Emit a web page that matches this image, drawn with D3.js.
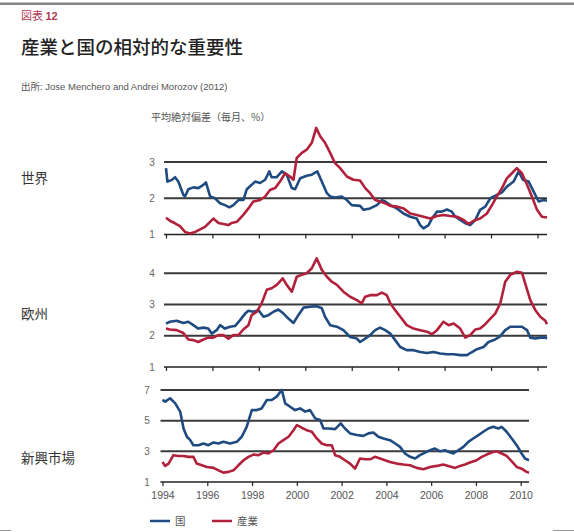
<!DOCTYPE html>
<html>
<head>
<meta charset="utf-8">
<script src="https://cdn.jsdelivr.net/npm/d3@7"></script>
<style>
  body { margin: 0; background: #fff; }
  svg { display: block; }
  text { font-family: "Liberation Sans", "Noto Sans CJK JP", sans-serif; }
  .jp { font-family: "Noto Sans CJK JP", sans-serif; }
</style>
</head>
<body>
<div id="chart"></div>
<script>
// x ticks (years) and y ticks per panel
var yearTicks = [1994, 1996, 1998, 2000, 2002, 2004, 2006, 2008, 2010];
var worldTicks = [1, 2, 3];
var europeTicks = [1, 2, 3, 4];
var emTicks = [1, 3, 5, 7];

var panelNames = ["世界", "欧州", "新興市場"];
var seriesNames = ["国", "産業"];

// [year, mean absolute deviation %]
var worldCountry = [[1994.0,2.83],[1994.06,2.46],[1994.24,2.5],[1994.39,2.58],[1994.53,2.46],[1994.75,2.09],[1994.82,2.05],[1994.96,2.25],[1995.18,2.3],[1995.39,2.28],[1995.61,2.37],[1995.72,2.44],[1995.9,2.05],[1996.11,2.0],[1996.33,1.86],[1996.54,1.81],[1996.73,1.75],[1996.9,1.81],[1997.12,1.95],[1997.33,1.95],[1997.48,2.25],[1997.69,2.37],[1997.84,2.46],[1998.05,2.42],[1998.27,2.51],[1998.45,2.74],[1998.55,2.58],[1998.77,2.58],[1998.99,2.74],[1999.2,2.65],[1999.42,2.28],[1999.56,2.25],[1999.78,2.55],[2000.06,2.62],[2000.28,2.65],[2000.52,2.74],[2000.71,2.46],[2000.93,2.14],[2001.07,2.05],[2001.28,2.02],[2001.57,2.05],[2001.79,1.95],[2002.0,1.81],[2002.36,1.79],[2002.51,1.68],[2002.79,1.72],[2003.08,1.81],[2003.3,1.95],[2003.44,1.91],[2003.66,1.81],[2003.94,1.72],[2004.23,1.58],[2004.52,1.49],[2004.8,1.44],[2004.95,1.26],[2005.09,1.17],[2005.31,1.26],[2005.45,1.44],[2005.67,1.63],[2005.88,1.63],[2006.1,1.69],[2006.31,1.63],[2006.46,1.49],[2006.67,1.4],[2006.89,1.31],[2007.1,1.26],[2007.32,1.4],[2007.53,1.68],[2007.75,1.77],[2007.97,2.0],[2008.25,2.09],[2008.47,2.16],[2008.68,2.32],[2008.97,2.46],[2009.19,2.74],[2009.37,2.51],[2009.62,2.46],[2009.83,2.19],[2010.05,1.91],[2010.26,1.95],[2010.41,1.93]];
var worldIndustry = [[1994.0,1.46],[1994.17,1.38],[1994.39,1.31],[1994.6,1.23],[1994.82,1.07],[1995.03,1.03],[1995.25,1.07],[1995.47,1.14],[1995.68,1.21],[1995.9,1.35],[1996.04,1.44],[1996.26,1.32],[1996.47,1.29],[1996.69,1.26],[1996.83,1.32],[1997.05,1.35],[1997.33,1.54],[1997.55,1.72],[1997.76,1.91],[1998.05,1.95],[1998.27,2.05],[1998.48,2.23],[1998.7,2.28],[1998.91,2.46],[1999.13,2.69],[1999.34,2.6],[1999.49,2.51],[1999.63,3.11],[1999.85,3.25],[2000.06,3.34],[2000.28,3.53],[2000.47,3.94],[2000.64,3.71],[2000.85,3.53],[2001.07,3.25],[2001.28,2.97],[2001.5,2.83],[2001.79,2.6],[2002.07,2.51],[2002.36,2.49],[2002.58,2.28],[2002.79,2.14],[2003.01,1.95],[2003.22,1.91],[2003.44,1.86],[2003.66,1.79],[2003.94,1.77],[2004.23,1.72],[2004.52,1.58],[2004.8,1.54],[2005.09,1.49],[2005.38,1.44],[2005.67,1.51],[2005.95,1.54],[2006.24,1.51],[2006.53,1.49],[2006.82,1.4],[2007.03,1.29],[2007.25,1.38],[2007.53,1.44],[2007.82,1.58],[2008.04,1.81],[2008.25,2.05],[2008.47,2.28],[2008.68,2.55],[2008.9,2.69],[2009.11,2.83],[2009.33,2.69],[2009.55,2.37],[2009.76,2.05],[2009.98,1.68],[2010.19,1.49],[2010.41,1.47]];
var europeCountry = [[1994.0,2.39],[1994.17,2.45],[1994.46,2.48],[1994.75,2.41],[1994.96,2.45],[1995.18,2.34],[1995.39,2.23],[1995.61,2.26],[1995.82,2.23],[1995.97,2.07],[1996.18,2.18],[1996.33,2.34],[1996.54,2.23],[1996.76,2.29],[1996.97,2.31],[1997.19,2.5],[1997.41,2.71],[1997.55,2.8],[1997.76,2.77],[1997.98,2.82],[1998.2,2.61],[1998.41,2.66],[1998.63,2.77],[1998.84,2.84],[1999.06,2.71],[1999.27,2.55],[1999.49,2.41],[1999.7,2.66],[1999.92,2.9],[2000.21,2.93],[2000.49,2.95],[2000.71,2.88],[2000.85,2.61],[2001.07,2.34],[2001.36,2.29],[2001.64,2.18],[2001.93,1.96],[2002.22,1.91],[2002.36,1.8],[2002.58,1.91],[2002.79,2.02],[2003.01,2.18],[2003.22,2.26],[2003.44,2.18],[2003.66,2.07],[2003.87,1.86],[2004.09,1.64],[2004.37,1.54],[2004.66,1.54],[2004.95,1.48],[2005.24,1.45],[2005.52,1.48],[2005.81,1.43],[2006.1,1.41],[2006.39,1.41],[2006.67,1.38],[2006.96,1.38],[2007.18,1.48],[2007.39,1.57],[2007.68,1.64],[2007.89,1.8],[2008.18,1.88],[2008.4,1.99],[2008.61,2.18],[2008.83,2.29],[2009.11,2.29],[2009.33,2.29],[2009.55,2.18],[2009.69,1.94],[2009.91,1.91],[2010.12,1.94],[2010.34,1.94],[2010.41,1.91]];
var europeIndustry = [[1994.0,2.23],[1994.17,2.2],[1994.46,2.18],[1994.75,2.09],[1994.96,1.88],[1995.18,1.86],[1995.39,1.8],[1995.61,1.88],[1995.82,1.94],[1996.04,1.94],[1996.26,2.02],[1996.47,2.02],[1996.69,1.91],[1996.9,2.02],[1997.12,2.02],[1997.33,2.2],[1997.55,2.34],[1997.69,2.66],[1997.91,2.77],[1998.12,3.04],[1998.34,3.47],[1998.55,3.52],[1998.77,3.63],[1999.03,3.84],[1999.2,3.63],[1999.42,3.41],[1999.63,3.89],[1999.85,3.95],[2000.06,4.0],[2000.28,4.16],[2000.49,4.48],[2000.71,4.11],[2000.93,3.89],[2001.14,3.73],[2001.36,3.63],[2001.64,3.41],[2001.93,3.25],[2002.22,3.14],[2002.43,3.04],[2002.58,3.25],[2002.79,3.3],[2003.08,3.3],[2003.3,3.38],[2003.51,3.3],[2003.66,3.04],[2003.87,2.82],[2004.09,2.61],[2004.37,2.34],[2004.66,2.23],[2004.95,2.18],[2005.24,2.13],[2005.45,2.05],[2005.67,2.18],[2005.95,2.45],[2006.17,2.34],[2006.39,2.39],[2006.67,2.23],[2006.89,1.94],[2007.1,2.02],[2007.32,2.2],[2007.53,2.23],[2007.75,2.37],[2007.97,2.55],[2008.18,2.71],[2008.4,3.04],[2008.61,3.73],[2008.83,3.95],[2009.11,4.05],[2009.33,4.02],[2009.47,3.68],[2009.69,3.14],[2009.91,2.82],[2010.12,2.61],[2010.34,2.48],[2010.41,2.37]];
var emCountry = [[1994.0,6.35],[1994.12,6.24],[1994.34,6.46],[1994.57,6.13],[1994.79,5.59],[1994.94,4.49],[1995.09,3.95],[1995.24,3.73],[1995.38,3.4],[1995.61,3.4],[1995.83,3.51],[1996.05,3.4],[1996.28,3.58],[1996.5,3.51],[1996.72,3.62],[1997.02,3.51],[1997.32,3.62],[1997.54,3.95],[1997.76,4.6],[1997.99,5.69],[1998.21,5.69],[1998.43,5.8],[1998.66,6.35],[1998.88,6.35],[1999.1,6.57],[1999.33,7.0],[1999.48,6.13],[1999.7,5.91],[1999.92,5.69],[2000.15,5.8],[2000.37,5.59],[2000.59,5.69],[2000.82,5.15],[2001.04,5.04],[2001.19,4.49],[2001.41,4.49],[2001.71,4.45],[2001.96,4.82],[2002.15,4.49],[2002.38,4.17],[2002.68,4.06],[2002.97,4.01],[2003.2,4.17],[2003.42,4.23],[2003.64,3.95],[2003.87,3.84],[2004.16,3.73],[2004.39,3.51],[2004.61,3.29],[2004.83,2.86],[2005.06,2.64],[2005.28,2.53],[2005.5,2.75],[2005.73,2.92],[2005.95,3.07],[2006.17,3.18],[2006.4,3.0],[2006.62,3.07],[2006.77,2.97],[2006.99,2.86],[2007.21,3.07],[2007.44,3.29],[2007.66,3.62],[2007.88,3.84],[2008.11,4.06],[2008.33,4.28],[2008.55,4.49],[2008.78,4.6],[2009.0,4.49],[2009.15,4.6],[2009.37,4.28],[2009.6,3.84],[2009.82,3.4],[2010.04,2.86],[2010.19,2.53],[2010.37,2.42]];
var emIndustry = [[1994.0,2.31],[1994.12,2.05],[1994.27,2.2],[1994.49,2.75],[1994.71,2.7],[1994.94,2.7],[1995.16,2.64],[1995.38,2.64],[1995.53,2.2],[1995.76,2.09],[1995.98,1.98],[1996.28,1.92],[1996.5,1.76],[1996.72,1.61],[1996.95,1.66],[1997.17,1.76],[1997.39,2.09],[1997.62,2.42],[1997.84,2.64],[1998.06,2.79],[1998.29,2.75],[1998.51,2.92],[1998.73,2.86],[1998.96,3.07],[1999.18,3.51],[1999.4,3.73],[1999.63,3.95],[1999.85,4.38],[2000.0,4.71],[2000.22,4.54],[2000.44,4.38],[2000.67,4.28],[2000.89,3.84],[2001.11,3.51],[2001.34,3.4],[2001.56,3.4],[2001.71,2.75],[2001.93,2.64],[2002.15,2.42],[2002.38,2.2],[2002.6,1.87],[2002.82,2.53],[2003.05,2.48],[2003.27,2.48],[2003.49,2.64],[2003.72,2.53],[2003.94,2.42],[2004.16,2.31],[2004.46,2.2],[2004.76,2.14],[2005.06,2.09],[2005.35,1.92],[2005.65,1.83],[2005.95,1.98],[2006.25,2.05],[2006.54,2.14],[2006.77,2.05],[2007.07,1.92],[2007.29,2.05],[2007.51,2.14],[2007.73,2.27],[2008.03,2.42],[2008.26,2.64],[2008.48,2.79],[2008.7,2.92],[2008.93,3.0],[2009.15,2.86],[2009.37,2.7],[2009.6,2.35],[2009.82,1.98],[2010.04,1.87],[2010.26,1.66],[2010.37,1.61]];

var blue = "#1f4b80";
var red = "#b2213c";

var svgWidth = 574, svgHeight = 532;
var svg = d3.select("#chart").append("svg")
  .attr("width", svgWidth)
  .attr("height", svgHeight);

// frame pieces
svg.append("rect").attr("x", 0).attr("y", 2.5).attr("width", svgWidth).attr("height", 2.5).attr("fill", "#858585");
svg.append("line").attr("x1", 0).attr("x2", 11).attr("y1", 530.5).attr("y2", 530.5).attr("stroke", "#999");
svg.append("line").attr("x1", 553).attr("x2", 574).attr("y1", 530.5).attr("y2", 530.5).attr("stroke", "#999");

// header
var fig = svg.append("text").attr("x", 21).attr("y", 20).attr("fill", "#b23a55").attr("font-size", "11px");
fig.append("tspan").attr("class", "jp").text("図表 ");
fig.append("tspan").attr("font-weight", "bold").text("12");

svg.append("text").attr("class", "jp")
  .attr("x", 21).attr("y", 54)
  .attr("font-size", "18.5px")
  .attr("font-weight", 500)
  .attr("fill", "#222")
  .text("産業と国の相対的な重要性");

var src = svg.append("text").attr("x", 21).attr("y", 90).attr("font-size", "9.5px").attr("fill", "#555");
src.append("tspan").attr("class", "jp").text("出所");
src.append("tspan").text(": Jose Menchero and Andrei Morozov (2012)");

svg.append("text").attr("class", "jp")
  .attr("x", 151).attr("y", 121)
  .attr("font-size", "10px")
  .attr("fill", "#555")
  .text("平均絶対偏差（毎月、%）");

var panels = [
  { name: panelNames[0], country: worldCountry, industry: worldIndustry, ticks: worldTicks,
    y: d3.scaleLinear().domain([1, 3]).range([234.5, 162]),
    x: d3.scaleLinear().domain([1994, 2010.41]).range([166, 547]),
    labelY: 178, tickX: 152, showYears: false },
  { name: panelNames[1], country: europeCountry, industry: europeIndustry, ticks: europeTicks,
    y: d3.scaleLinear().domain([1, 4]).range([367, 273.3]),
    x: d3.scaleLinear().domain([1994, 2010.41]).range([166, 547]),
    labelY: 314, tickX: 152, showYears: false },
  { name: panelNames[2], country: emCountry, industry: emIndustry, ticks: emTicks,
    y: d3.scaleLinear().domain([1, 7]).range([482, 390]),
    x: d3.scaleLinear().domain([1994, 2010.37]).range([162.5, 529]),
    labelY: 458, tickX: 147, showYears: true }
];

panels.forEach(function(p) {
  var g = svg.append("g");
  var x0 = p.x.range()[0] - 2, x1 = p.x.range()[1];

  // region label
  g.append("text").attr("class", "jp")
    .attr("x", 21).attr("y", p.labelY)
    .attr("dy", "0.35em")
    .attr("font-size", "13.5px")
    .attr("fill", "#333")
    .text(p.name);

  // grid lines (all ticks above the baseline)
  g.selectAll(".grid")
    .data(p.ticks.slice(1))
    .enter()
    .append("line")
    .attr("x1", x0).attr("x2", x1)
    .attr("y1", d => p.y(d)).attr("y2", d => p.y(d))
    .attr("stroke", "#3a3a3a")
    .attr("stroke-width", 2);

  // y labels
  var leftAxis = d3.axisLeft(p.y).tickValues(p.ticks).tickFormat(d3.format("d")).tickSize(0).tickPadding(0);
  var ya = g.append("g").attr("transform", `translate(${p.tickX + 3}, 0)`).call(leftAxis);
  ya.select(".domain").remove();
  ya.selectAll("text")
    .attr("text-anchor", "middle")
    .attr("x", -3)
    .attr("font-size", "10px")
    .attr("font-family", "Liberation Sans, sans-serif")
    .attr("fill", "#666");

  // bottom axis
  var bottomAxis = d3.axisBottom(p.x)
    .tickValues(yearTicks)
    .tickSize(4)
    .tickSizeOuter(0)
    .tickFormat(p.showYears ? d3.format("d") : "");
  var xa = g.append("g").attr("transform", `translate(0, ${p.y(1)})`).call(bottomAxis);
  xa.select(".domain")
    .attr("d", `M${x0},0H${x1}`)
    .attr("stroke", "#222")
    .attr("stroke-width", 1.5);
  xa.selectAll(".tick line").attr("stroke", "#222").attr("stroke-width", 1.2);
  xa.selectAll("text")
    .attr("font-size", "10.5px")
    .attr("font-family", "Liberation Sans, sans-serif")
    .attr("fill", "#555")
    .attr("dy", "0.95em");

  var line = d3.line()
    .x(d => p.x(d[0]))
    .y(d => p.y(d[1]));

  g.append("path")
    .datum(p.country)
    .attr("d", line)
    .attr("fill", "none")
    .attr("stroke", blue)
    .attr("stroke-width", 2.6)
    .attr("stroke-linejoin", "round");

  g.append("path")
    .datum(p.industry)
    .attr("d", line)
    .attr("fill", "none")
    .attr("stroke", red)
    .attr("stroke-width", 2.6)
    .attr("stroke-linejoin", "round");
});

// legend
var legend = svg.append("g").attr("transform", "translate(150, 521)");
[blue, red].forEach(function(c, i) {
  var lg = legend.append("g").attr("transform", `translate(${i * 62}, 0)`);
  lg.append("line").attr("x1", 0).attr("x2", 20).attr("y1", 0).attr("y2", 0)
    .attr("stroke", c).attr("stroke-width", 2.5);
  lg.append("text").attr("class", "jp")
    .attr("x", 25).attr("y", 0).attr("dy", "0.35em")
    .attr("font-size", "10.5px")
    .attr("fill", "#555")
    .text(seriesNames[i]);
});
</script>
</body>
</html>
